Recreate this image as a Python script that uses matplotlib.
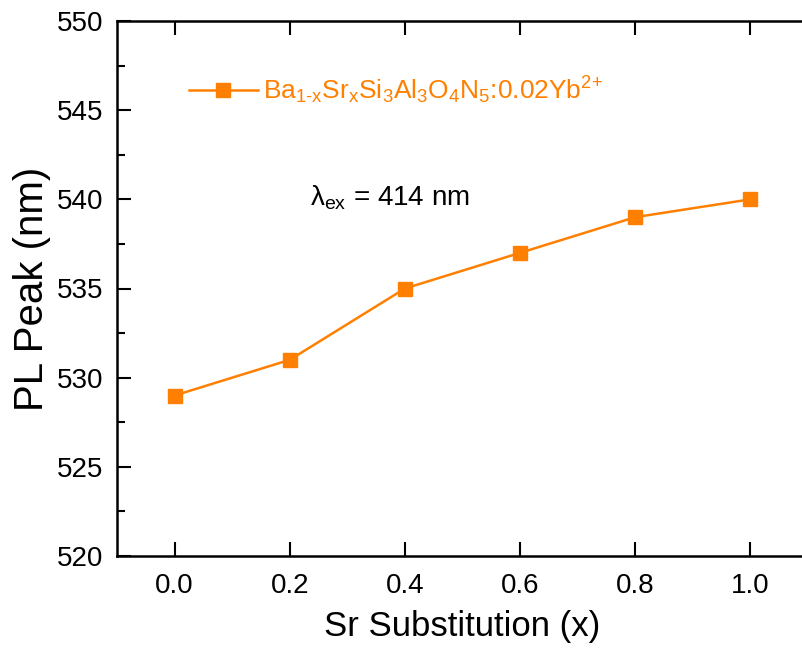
import matplotlib.pyplot as plt

plt.rcParams["font.family"] = ["Liberation Sans", "DejaVu Sans"]
plt.rcParams["mathtext.fontset"] = "custom"
plt.rcParams["mathtext.rm"] = "Liberation Sans"

# Sr substitution vs PL peak position
sr_x = [0.0, 0.2, 0.4, 0.6, 0.8, 1.0]
pl_peak = [529, 531, 535, 537, 539, 540]
x_ticks = [0.0, 0.2, 0.4, 0.6, 0.8, 1.0]
y_ticks = [520, 525, 530, 535, 540, 545, 550]
y_minor = [522.5, 527.5, 532.5, 537.5, 542.5, 547.5]

ORANGE = "#FF8000"
LABEL = (r"$\mathregular{Ba_{1\text{-}x}Sr_xSi_3Al_3O_4N_5}$:0.02Yb"
         r"$\mathregular{^{2\text{+}}}$")

fig = plt.figure(figsize=(8.02, 6.48), dpi=100)
ax = fig.add_axes([117 / 802, 92 / 648, 691 / 802, 535 / 648])

ax.plot(sr_x, pl_peak, color=ORANGE, lw=1.8, marker="s", ms=10.5, label=LABEL)

ax.set_xlim(-0.1, 1.1)
ax.set_ylim(520, 550)
ax.set_xticks(x_ticks)
ax.set_xticklabels([f"{v:.1f}" for v in x_ticks])
ax.set_yticks(y_ticks)
ax.set_yticks(y_minor, minor=True)

ax.tick_params(axis="both", which="major", direction="in", length=10,
               width=1.5, labelsize=20)
ax.tick_params(axis="x", which="major", pad=12)
ax.tick_params(axis="y", which="major", pad=10)
ax.tick_params(axis="y", which="minor", direction="in", length=6, width=1.5)
ax.tick_params(axis="x", which="major", top=True, labeltop=False)
for s in ax.spines.values():
    s.set_linewidth(1.8)

ax.set_xlabel("Sr Substitution (x)", fontsize=25, labelpad=8)
ax.set_ylabel("PL Peak (nm)", fontsize=29, labelpad=4)

ax.legend(loc="upper left", bbox_to_anchor=(0.07, 0.945), frameon=False,
          fontsize=19, handlelength=2.6, handletextpad=0.2,
          labelcolor=ORANGE)

ax.text(0.28, 0.655, r"$\mathregular{\lambda_{ex}}$ = 414 nm",
        transform=ax.transAxes, fontsize=20, color="black")

fig.savefig("out.png", dpi=100)
